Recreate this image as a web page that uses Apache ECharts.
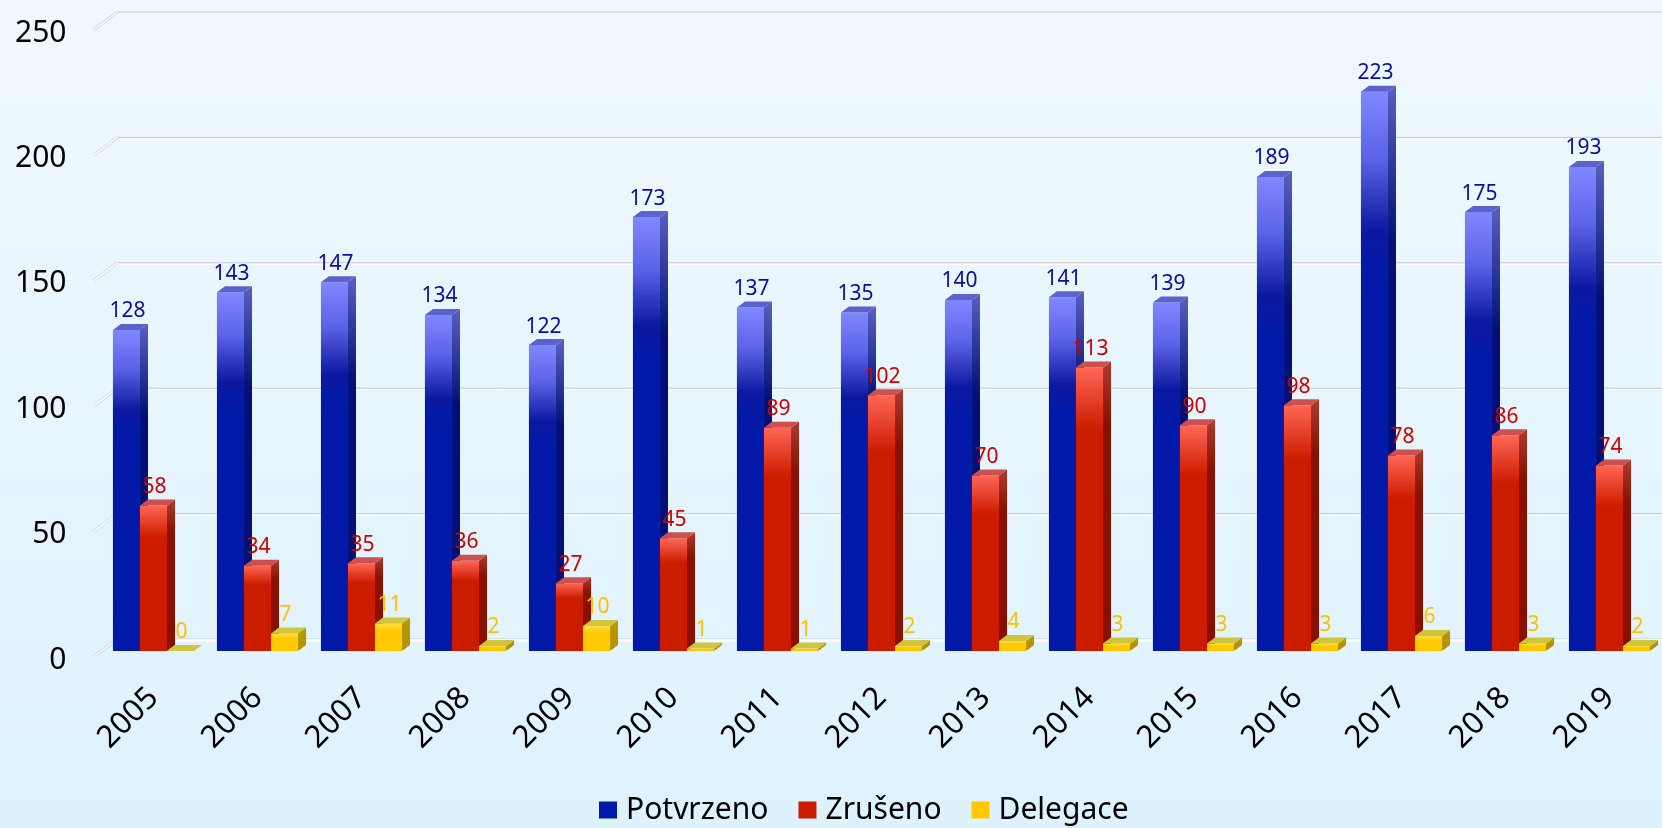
<!DOCTYPE html>
<html>
<head>
<meta charset="utf-8">
<script src="https://cdn.jsdelivr.net/npm/echarts@6/dist/echarts.min.js"></script>
<style>
  html, body { margin: 0; padding: 0; }
  #main { width: 1662px; height: 828px; }
</style>
</head>
<body>
<div id="main"></div>
<script>
var years = ['2005', '2006', '2007', '2008', '2009', '2010', '2011', '2012', '2013', '2014', '2015', '2016', '2017', '2018', '2019']
var potvrzeno = [128, 143, 147, 134, 122, 173, 137, 135, 140, 141, 139, 189, 223, 175, 193]
var zruseno = [58, 34, 35, 36, 27, 45, 89, 102, 70, 113, 90, 98, 78, 86, 74]
var delegace = [0, 7, 11, 2, 10, 1, 1, 2, 4, 3, 3, 3, 6, 3, 2]
var yTicks = [0, 50, 100, 150, 200, 250]

var FONT = 'Tahoma, "Noto Sans", "DejaVu Sans", sans-serif'
// depth of the fake 3d bars
var DX = 8
var DY = 6

function grad(stops) {
  return new echarts.graphic.LinearGradient(0, 0, 0, 1, stops.map(function (s) {
    return { offset: s[0], color: s[1] }
  }))
}

var looks = [
  {
    face: [[0, '#8088ff'], [0.12, '#5a62e8'], [0.25, '#0c18a0'], [0.33, '#0019a8'], [1, '#0019a8']],
    side: [[0, '#5860c0'], [0.28, '#001078'], [1, '#001078']],
    top: '#5c62cc',
    label: '#0c0ca0'
  },
  {
    face: [[0, '#ff6656'], [0.22, '#cc1c00'], [1, '#cc1c00']],
    side: [[0, '#b03a30'], [0.22, '#881000'], [1, '#881000']],
    top: '#cc5050',
    label: '#d00000'
  },
  {
    face: [[0, '#ffe040'], [0.3, '#ffc800'], [1, '#ffc800']],
    side: [[0, '#b89a00'], [1, '#b39000']],
    top: '#cfc640',
    label: '#ffc000'
  }
]

function bar3d(idx) {
  var look = looks[idx]
  return function (params, api) {
    var cat = api.value(0)
    var val = api.value(1)
    var band = api.size([1, 0])[0]
    var w = band * 0.26
    var p0 = api.coord([cat, 0])
    var p1 = api.coord([cat, val])
    var x = p0[0] + (idx - 1.5) * w
    var yb = p0[1]
    var yt = p1[1]
    var kids = []
    if (yb - yt > 0.5) {
      kids.push({
        type: 'rect',
        shape: { x: x, y: yt, width: w, height: yb - yt },
        style: { fill: grad(look.face) }
      })
      kids.push({
        type: 'polygon',
        shape: { points: [[x + w, yt], [x + w + DX, yt - DY], [x + w + DX, yb - DY], [x + w, yb]] },
        style: { fill: grad(look.side) }
      })
    }
    kids.push({
      type: 'polygon',
      shape: { points: [[x, yt], [x + DX, yt - DY], [x + w + DX, yt - DY], [x + w, yt]] },
      style: { fill: look.top }
    })
    kids.push({
      type: 'text',
      x: x + w / 2 + 1,
      y: yt - DY - 2,
      style: {
        text: String(val),
        fill: look.label,
        font: '21px ' + FONT,
        align: 'center',
        verticalAlign: 'bottom'
      }
    })
    return { type: 'group', children: kids }
  }
}

// back wall lines and the little slanted ends on the left
function gridWall(params, api) {
  var v = api.value(0)
  var p = api.coord([0, v])
  var band = api.size([1, 0])[0]
  var left = p[0] - band / 2
  var yBack = p[1] - 2 * DY
  return {
    type: 'group',
    children: [
      {
        type: 'line',
        shape: { x1: left + 2 * DX, y1: yBack, x2: api.getWidth(), y2: yBack },
        style: { stroke: '#c4c8cc', lineWidth: 1 }
      },
      {
        type: 'line',
        shape: { x1: left + 2 * DX, y1: yBack + 1.5, x2: api.getWidth(), y2: yBack + 1.5 },
        style: { stroke: '#ffffff', lineWidth: v === 0 ? 2.5 : 1.2 }
      },
      {
        type: 'line',
        shape: { x1: left - DX, y1: p[1] + DY, x2: left + 2 * DX, y2: yBack },
        style: { stroke: '#cdd6de', lineWidth: 3 }
      },
      {
        type: 'line',
        shape: { x1: left - DX, y1: p[1] + DY, x2: left + 2 * DX, y2: yBack },
        style: { stroke: '#ffffff', lineWidth: 1.5 }
      }
    ]
  }
}

function pairs(arr) {
  return arr.map(function (v, i) { return [i, v] })
}

var myChart = echarts.init(document.getElementById('main'))
var option = {
  animation: false,
  backgroundColor: grad([[0, '#f0f8ff'], [1, '#ddf2fd']]),
  grid: {
    left: 101.5,
    right: 0.5,
    top: 24,
    bottom: 177,
    containLabel: false
  },
  legend: {
    bottom: -2,
    left: 594,
    itemWidth: 18,
    itemHeight: 17,
    itemGap: 30,
    icon: 'rect',
    textStyle: {
      fontFamily: FONT,
      fontSize: 30,
      color: '#000',
      padding: [0, 0, 0, 4]
    },
    data: ['Potvrzeno', 'Zrušeno', 'Delegace']
  },
  xAxis: {
    type: 'category',
    data: years,
    axisLine: { show: false },
    axisTick: { show: false },
    axisLabel: {
      interval: 0,
      rotate: 45,
      margin: 42,
      fontFamily: FONT,
      fontSize: 31,
      color: '#000'
    }
  },
  yAxis: {
    type: 'value',
    min: 0,
    max: 250,
    interval: 50,
    axisLine: { show: false },
    axisTick: { show: false },
    splitLine: { show: false },
    axisLabel: {
      margin: 35,
      verticalAlign: 'top',
      lineHeight: 18,
      fontFamily: FONT,
      fontSize: 30,
      color: '#000'
    }
  },
  series: [
    {
      type: 'custom',
      name: 'wall',
      renderItem: gridWall,
      data: yTicks.map(function (v) { return [v] }),
      encode: { y: 0 },
      silent: true,
      z: 1
    },
    {
      type: 'custom',
      name: 'Potvrzeno',
      renderItem: bar3d(0),
      data: pairs(potvrzeno),
      encode: { x: 0, y: 1 },
      itemStyle: { color: '#0019a8' },
      z: 2
    },
    {
      type: 'custom',
      name: 'Zrušeno',
      renderItem: bar3d(1),
      data: pairs(zruseno),
      encode: { x: 0, y: 1 },
      itemStyle: { color: '#cc1c00' },
      z: 3
    },
    {
      type: 'custom',
      name: 'Delegace',
      renderItem: bar3d(2),
      data: pairs(delegace),
      encode: { x: 0, y: 1 },
      itemStyle: { color: '#ffc800' },
      z: 4
    }
  ]
}
option && myChart.setOption(option, true)
</script>
</body>
</html>
